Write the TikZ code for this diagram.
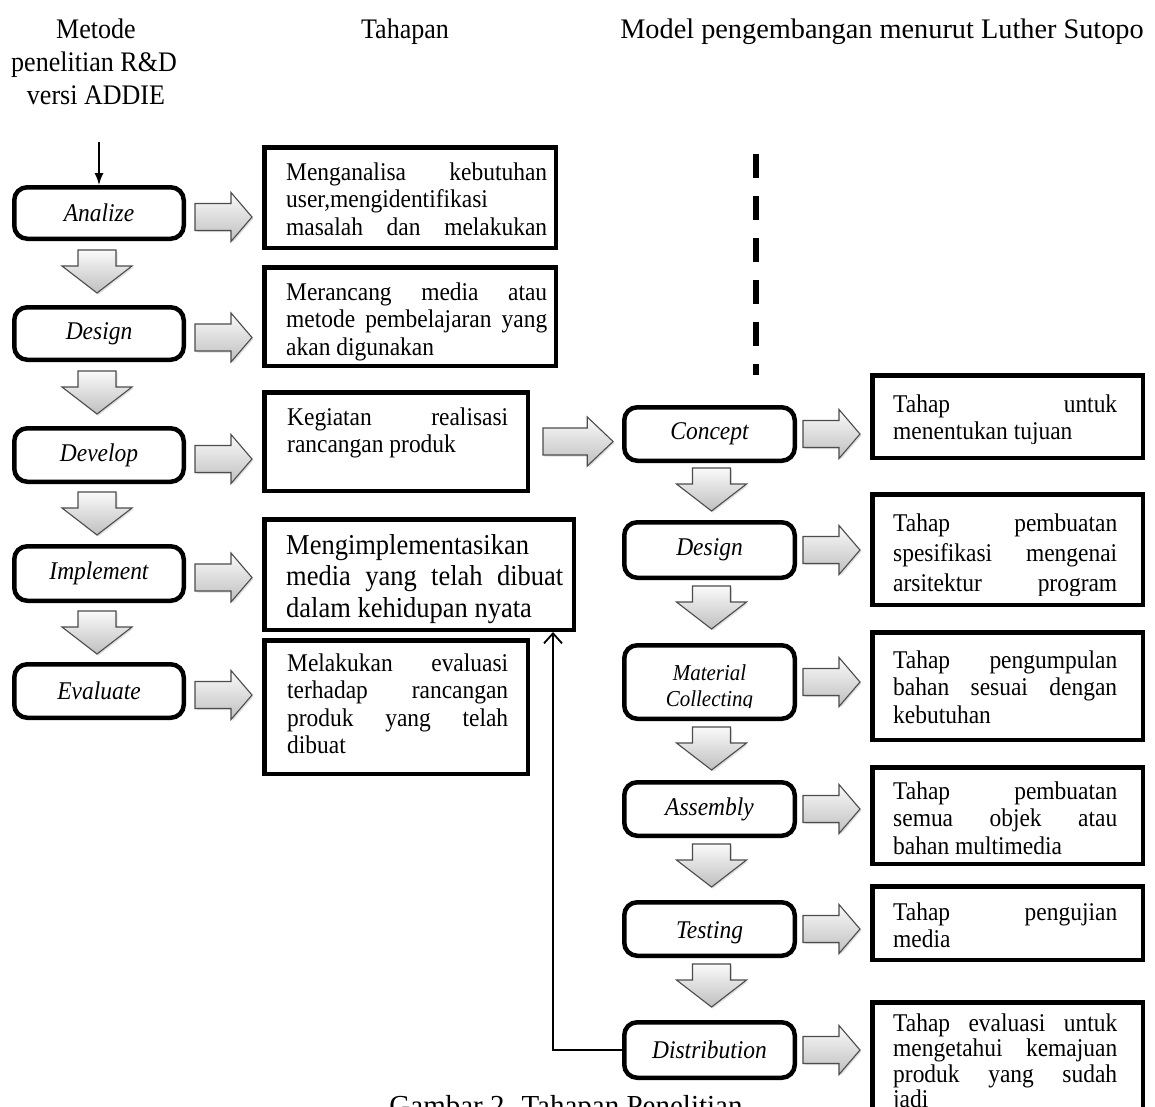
\documentclass[tikz,border=0pt]{standalone}
\usepackage{fontspec}
\setmainfont{Liberation Serif}[FakeStretch=0.92]
\newfontfamily\hfont{Liberation Serif}[FakeStretch=1.0]
\usetikzlibrary{arrows.meta,shadows,calc}
\newcommand\jl[1]{\makebox[\linewidth][s]{#1}}
\newcommand\bigbox[5]{\node[tbox, minimum width={#4-#2-4.5}, minimum height={#5-#3-4.5}] (#1) at ({(#2+#4)/2},{(#3+#5)/2}) {};}
\newcommand\stg[6]{\node[stage, minimum width={#4-#2-4.5}, minimum height={#5-#3-4.5}] (#1) at ({(#2+#4)/2},{(#3+#5)/2}) {#6};}
\begin{document}
\begin{tikzpicture}[x=1pt,y=-1pt,
 stage/.style={draw, line width=4.5pt, rounded corners=13pt, inner sep=0pt, align=center, font=\fontsize{25.5}{29}\selectfont\itshape},
 tbox/.style={draw, line width=4.5pt, inner sep=0pt},
 txt/.style={inner sep=0pt, anchor=base west, font=\fontsize{25.5}{27.5}\selectfont},
 bigtxt/.style={inner sep=0pt, anchor=base west, font=\fontsize{28.8}{31.5}\selectfont},
 hdr/.style={inner sep=0pt, anchor=base, font=\fontsize{28.3}{33}\selectfont},
 blk/.style={draw=black!70, line width=1.1pt, top color=gray!4, bottom color=gray!50, drop shadow={opacity=0.25, shadow xshift=1.5pt, shadow yshift=-1.5pt}},
 rarr/.pic={\path[blk] (0,-13.5) -- (36,-13.5) -- (36,-24.5) -- (57,0) -- (36,24.5) -- (36,13.5) -- (0,13.5) -- cycle;},
 darr/.pic={\path[blk] (-19,0) -- (19,0) -- (19,16) -- (35,16) -- (0,43) -- (-35,16) -- (-19,16) -- cycle;},
 fb/.style={line width=1.8pt, -{Straight Barb[length=10pt,width=18pt,line width=1.8pt]}},
 thin/.style={line width=1.5pt, -{Latex[length=12pt,width=9pt]}},
 dashline/.style={line width=6pt, dash pattern=on 24pt off 18pt}
]
\fill[white] (0,0) rectangle (1155,1106);
\useasboundingbox (0,0) rectangle (1155,1106);
\clip (0,0) rectangle (1155,1106);

% headers
\node[hdr] (h1a) at (96,38) {Metode};
\node[hdr] (h1b) at (94,71) {penelitian R\&D};
\node[hdr] (h1c) at (96,104) {versi ADDIE};
\node[hdr] (h2) at (405,38) {Tahapan};
\node[hdr, font=\hfont\fontsize{28.3}{33}\selectfont] (h3) at (882,38) {Model pengembangan menurut Luther Sutopo};

% left stages
\stg{an}{12}{185}{186}{241}{Analize}
\stg{de}{12}{305}{186}{362}{Design}
\stg{dv}{12}{426}{186}{484}{Develop}
\stg{im}{12}{544}{186}{603}{Implement}
\stg{ev}{12}{662}{186}{720}{Evaluate}

\coordinate (start) at (99,142);
\draw[thin] (start) -- (an.north);

\pic at ($(an.south)+(-2,9)$) {darr};
\pic at ($(de.south)+(-2,9)$) {darr};
\pic at ($(dv.south)+(-2,8)$) {darr};
\pic at ($(im.south)+(-2,8)$) {darr};

\pic at ($(an.east)+(9,4)$) {rarr};
\pic at ($(de.east)+(9,4)$) {rarr};
\pic at ($(dv.east)+(9,4)$) {rarr};
\pic at ($(im.east)+(9,4)$) {rarr};
\pic at ($(ev.east)+(9,4)$) {rarr};

% middle text boxes
\bigbox{b1}{262}{145}{558}{250}
\bigbox{b2}{262}{265}{558}{368}
\bigbox{b3}{262}{390}{530}{493}
\bigbox{b4}{262}{517}{576}{632}
\bigbox{b5}{262}{638}{530}{776}

\node[txt] (b1t) at (286,180) {\parbox[t]{261pt}{\jl{Menganalisa kebutuhan}\\user,mengidentifikasi\\\jl{masalah dan melakukan}}};
\node[txt] (b2t) at (286,300) {\parbox[t]{261pt}{\jl{Merancang media atau}\\\jl{metode pembelajaran yang}\\akan digunakan}};
\node[txt] (b3t) at (287,425) {\parbox[t]{221pt}{\jl{Kegiatan realisasi}\\rancangan produk}};
\node[bigtxt] (b4t) at (286,554) {\parbox[t]{277pt}{Mengimplementasikan\\\jl{media yang telah dibuat}\\dalam kehidupan nyata}};
\node[txt] (b5t) at (287,671) {\parbox[t]{221pt}{\jl{Melakukan evaluasi}\\\jl{terhadap rancangan}\\\jl{produk yang telah}\\dibuat}};

% dashed divider
\draw[dashline] (756,154) -- (756,375);

% right stages
\stg{co}{622}{405}{797}{463}{Concept}
\stg{ds}{622}{520}{797}{580}{Design}
\stg{mc}{622}{643}{797}{721}{}
\stg{as}{622}{780}{797}{838}{Assembly}
\stg{te}{622}{900}{797}{958}{}
\stg{di}{622}{1020}{797}{1080}{Distribution}

\begin{scope}
\clip (630,650) rectangle (790,707);
\node[inner sep=0pt, align=center, font=\fontsize{22.8}{26}\selectfont\itshape] (mct) at (709.5,688) {Material\\Collecting};
\end{scope}
\begin{scope}
\clip (630,905) rectangle (790,943);
\node[inner sep=0pt, font=\fontsize{25.5}{29}\selectfont\itshape, anchor=base] (tet) at (709.5,938) {Testing};
\end{scope}

\pic at ($(co.south)+(2,5)$) {darr};
\pic at ($(ds.south)+(2,6)$) {darr};
\pic at ($(mc.south)+(2,6)$) {darr};
\pic at ($(as.south)+(2,6)$) {darr};
\pic at ($(te.south)+(2,6)$) {darr};

\pic at ($(co.east)+(6,0)$) {rarr};
\pic at ($(ds.east)+(6,0)$) {rarr};
\pic at ($(mc.east)+(6,0)$) {rarr};
\pic at ($(as.east)+(6,0)$) {rarr};
\pic at ($(te.east)+(6,0)$) {rarr};
\pic at ($(di.east)+(6,0)$) {rarr};

\pic[xscale=1.23] at ($(b3.east)+(13,0)$) {rarr};

% right text boxes
\bigbox{t1}{870}{373}{1145}{460}
\bigbox{t2}{870}{492}{1145}{607}
\bigbox{t3}{870}{630}{1145}{742}
\bigbox{t4}{870}{765}{1145}{866}
\bigbox{t5}{870}{884}{1145}{962}
\bigbox{t6}{870}{1000}{1145}{1135}

\begin{scope}
\clip (876,378) rectangle (1139,443);
\node[txt] (t1t) at (893,412) {\parbox[t]{224pt}{\jl{Tahap untuk}\\menentukan tujuan}};
\end{scope}
\begin{scope}
\clip (876,497) rectangle (1139,595);
\node[txt, font=\fontsize{25.5}{30}\selectfont] (t2t) at (893,531) {\parbox[t]{224pt}{\jl{Tahap pembuatan}\\\jl{spesifikasi mengenai}\\\jl{arsitektur program}}};
\end{scope}
\node[txt] (t3t) at (893,668) {\parbox[t]{224pt}{\jl{Tahap pengumpulan}\\\jl{bahan sesuai dengan}\\kebutuhan}};
\node[txt] (t4t) at (893,799) {\parbox[t]{224pt}{\jl{Tahap pembuatan}\\\jl{semua objek atau}\\bahan multimedia}};
\node[txt] (t5t) at (893,920) {\parbox[t]{224pt}{\jl{Tahap pengujian}\\media}};
\node[txt, font=\fontsize{25.5}{25.5}\selectfont] (t6t) at (893,1031) {\parbox[t]{224pt}{\jl{Tahap evaluasi untuk}\\\jl{mengetahui kemajuan}\\\jl{produk yang sudah}\\jadi}};

% feedback connector
\coordinate (fbend) at (553,632);
\draw[fb] (di.west) -| (fbend);

% caption (cut by page edge)
\node[hdr, font=\hfont\fontsize{29}{33}\selectfont] (cap) at (566,1115) {Gambar 2. Tahapan Penelitian};
\end{tikzpicture}
\end{document}
